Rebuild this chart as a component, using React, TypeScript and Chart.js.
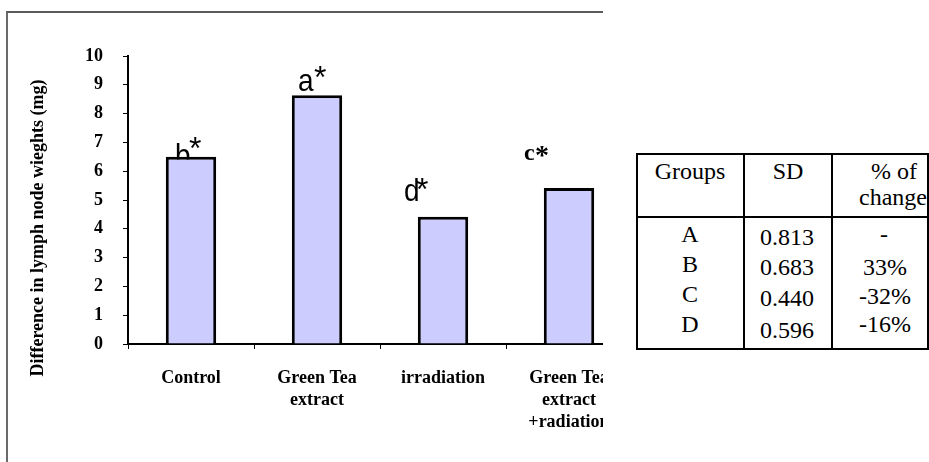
import React, { useEffect, useRef } from "react";
import { Chart, registerables } from "chart.js";

Chart.register(...registerables);

// ---- chart data ----
const categories: string[][] = [
  ["Control"],
  ["Green Tea", "extract"],
  ["irradiation"],
  ["Green Tea", "extract", "+radiation"],
];
const lymphNodeDiff = [6.5, 8.64, 4.42, 5.42];
const sigLetters = ["b", "a", "d", "c"];
const sigLetterLevels = [6.18, 8.78, 4.97, 6.39]; // letter baseline, axis units
const sigStarLevels = [6.42, 8.89, 5.0, 6.25]; // asterisk baseline, axis units
const yMin = 0;
const yMax = 10;
const yStep = 1;
const yTitle = "Difference in lymph node wieghts (mg)";

// ---- table data ----
const tableHeaders = ["Groups", "SD", "% of", "change"];
const groups = ["A", "B", "C", "D"];
const sdValues = ["0.813", "0.683", "0.440", "0.596"];
const pctChange = ["-", "33%", "-32%", "-16%"];

// ---- styles / layout ----
const SERIF = '"Liberation Serif", "Times New Roman", serif';
const SANS = '"Liberation Sans", Arial, sans-serif';
const SIG_STYLE = [
  { dx: -16, sdx: -2, font: `28px ${SANS}`, sfont: `32px ${SANS}`, sy: 1.12 },
  { dx: -19, sdx: -3, font: `28px ${SANS}`, sfont: `32px ${SANS}`, sy: 1.12 },
  { dx: -39, sdx: -27, font: `28px ${SANS}`, sfont: `32px ${SANS}`, sy: 1.12 },
  { dx: -45, sdx: -34, font: `bold 24px ${SERIF}`, sfont: `bold 28px ${SERIF}`, sy: 1 },
];

const sigPlugin = {
  id: "sigLetters",
  beforeDatasetsDraw(chart: any) {
    const { ctx } = chart;
    const x = chart.scales.x;
    const y = chart.scales.y;
    sigLetters.forEach((t, i) => {
      const st = SIG_STYLE[i];
      const cx = x.getPixelForValue(i);
      ctx.save();
      ctx.fillStyle = "#000";
      ctx.textAlign = "left";
      ctx.textBaseline = "alphabetic";
      ctx.translate(cx + st.dx, y.getPixelForValue(sigLetterLevels[i]));
      ctx.scale(1, st.sy);
      ctx.font = st.font;
      ctx.fillText(t, 0, 0);
      ctx.restore();
      ctx.save();
      ctx.fillStyle = "#000";
      ctx.textAlign = "left";
      ctx.textBaseline = "alphabetic";
      ctx.font = st.sfont;
      ctx.fillText("*", cx + st.sdx, y.getPixelForValue(sigStarLevels[i]));
      ctx.restore();
    });
  },
  afterDraw(chart: any) {
    const { ctx } = chart;
    ctx.save();
    ctx.translate(38, 228);
    ctx.rotate(-Math.PI / 2);
    ctx.font = `bold 18px ${SERIF}`;
    ctx.fillStyle = "#000";
    ctx.textAlign = "center";
    ctx.textBaseline = "middle";
    ctx.fillText(yTitle, 0, 0);
    ctx.restore();
  },
};

function BarChart() {
  const ref = useRef<HTMLCanvasElement | null>(null);
  useEffect(() => {
    if (!ref.current) return;
    const chart = new Chart(ref.current, {
      type: "bar",
      data: {
        labels: categories,
        datasets: [
          {
            data: lymphNodeDiff,
            backgroundColor: "#CCCCFF",
            borderColor: "#000",
            borderWidth: 3,
            barPercentage: 0.4,
            categoryPercentage: 1,
          },
        ],
      },
      options: {
        animation: false,
        responsive: false,
        devicePixelRatio: 1,
        layout: { padding: { left: 0, top: 56, right: 8, bottom: 0 } },
        plugins: {
          legend: { display: false },
          tooltip: { enabled: false },
          title: { display: false },
        },
        scales: {
          x: {
            z: 1,
            offset: true,
            grid: {
              display: true,
              drawOnChartArea: false,
              drawTicks: true,
              tickLength: 5,
              color: "#000",
              lineWidth: 1,
              offset: true,
            },
            border: { display: true, color: "#000", width: 2 },
            ticks: {
              color: "#000",
              font: { family: SERIF, size: 18, weight: "bold", lineHeight: 1.2 },
              padding: 19,
              maxRotation: 0,
              minRotation: 0,
              autoSkip: false,
            },
            afterFit(scale: any) {
              scale.height = 118;
            },
          },
          y: {
            min: yMin,
            max: yMax,
            grid: {
              display: true,
              drawOnChartArea: false,
              drawTicks: true,
              tickLength: 5,
              color: "#000",
              lineWidth: 1,
            },
            border: { display: true, color: "#000", width: 2 },
            ticks: {
              stepSize: yStep,
              color: "#000",
              font: { family: SERIF, size: 18, weight: "bold" },
              padding: 20,
            },
            afterFit(scale: any) {
              scale.width = 128;
            },
          },
        },
      } as any,
      plugins: [sigPlugin],
    });
    return () => chart.destroy();
  }, []);
  return (
    <canvas
      ref={ref}
      width={640}
      height={462}
      style={{ position: "absolute", left: 0, top: 0, width: 640, height: 462 }}
    />
  );
}

const TL = { left: 637, right: 928, top: 154, headSep: 217, bottom: 349, col1: 744, col2: 832 };
const headerPos = [
  { x: 690, y: 179 },
  { x: 788, y: 179 },
  { x: 894, y: 179 },
  { x: 893, y: 205 },
];
const groupBase = [242, 272, 302, 332];
const sdBase = [245, 275, 306, 338];
const pctBase = [242, 275, 304, 332];
const colCenters = [690, 787, 885];

function Txt({ x, y, t }: { x: number; y: number; t: string }) {
  return (
    <div
      style={{
        position: "absolute",
        left: x,
        top: y - 20,
        transform: "translateX(-50%)",
        fontFamily: SERIF,
        fontSize: 24,
        lineHeight: "24px",
        whiteSpace: "nowrap",
        color: "#000",
      }}
    >
      {t}
    </div>
  );
}

function Line({ x1, y1, x2, y2 }: { x1: number; y1: number; x2: number; y2: number }) {
  const horiz = y1 === y2;
  return (
    <div
      style={{
        position: "absolute",
        left: horiz ? x1 : x1 - 1,
        top: horiz ? y1 - 1 : y1,
        width: horiz ? x2 - x1 : 2,
        height: horiz ? 2 : y2 - y1,
        background: "#000",
      }}
    />
  );
}

function DataTable() {
  return (
    <>
      <Line x1={TL.left - 1} y1={TL.top} x2={TL.right + 1} y2={TL.top} />
      <Line x1={TL.left - 1} y1={TL.headSep} x2={TL.right + 1} y2={TL.headSep} />
      <Line x1={TL.left - 1} y1={TL.bottom} x2={TL.right + 1} y2={TL.bottom} />
      <Line x1={TL.left} y1={TL.top} x2={TL.left} y2={TL.bottom} />
      <Line x1={TL.col1} y1={TL.top} x2={TL.col1} y2={TL.bottom} />
      <Line x1={TL.col2} y1={TL.top} x2={TL.col2} y2={TL.bottom} />
      <Line x1={TL.right} y1={TL.top} x2={TL.right} y2={TL.bottom} />
      {tableHeaders.map((h, i) => (
        <Txt key={"h" + i} x={headerPos[i].x} y={headerPos[i].y} t={h} />
      ))}
      {groups.map((g, i) => (
        <Txt key={"g" + i} x={colCenters[0]} y={groupBase[i]} t={g} />
      ))}
      {sdValues.map((s, i) => (
        <Txt key={"s" + i} x={colCenters[1]} y={sdBase[i]} t={s} />
      ))}
      {pctChange.map((p, i) => (
        <Txt key={"p" + i} x={colCenters[2] - (i === 0 ? 1 : 0)} y={pctBase[i]} t={p} />
      ))}
    </>
  );
}

export default function App() {
  return (
    <div
      style={{
        position: "fixed",
        left: 0,
        top: 0,
        width: 929,
        height: 462,
        background: "#fff",
        overflow: "hidden",
      }}
    >
      <div
        style={{
          position: "absolute",
          left: 0,
          top: 0,
          width: 603,
          height: 462,
          overflow: "hidden",
        }}
      >
        <div
          style={{
            position: "absolute",
            left: 6,
            top: 11,
            width: 800,
            height: 800,
            borderLeft: "2px solid #6a6a6a",
            borderTop: "2px solid #5a5a5a",
          }}
        />
        <BarChart />
      </div>
      <DataTable />
    </div>
  );
}
